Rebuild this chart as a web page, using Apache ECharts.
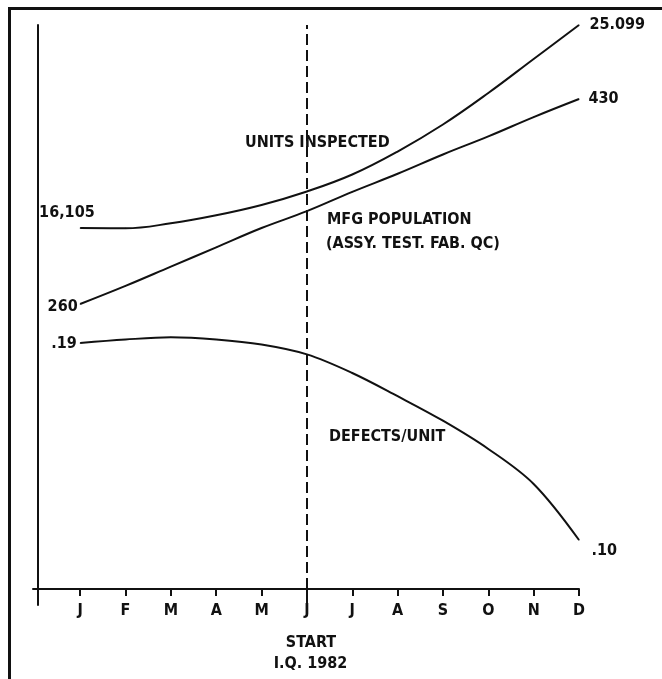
<!DOCTYPE html>
<html>
<head>
<meta charset="utf-8">
<script src="https://cdn.jsdelivr.net/npm/echarts@6/dist/echarts.min.js"></script>
<style>
html,body{margin:0;padding:0;background:#fff;}
#chart{width:662px;height:679px;}
</style>
</head>
<body>
<div id="chart"></div>
<script>
// ---- data ----
const months = ['J','F','M','A','M','J','J','A','S','O','N','D'];
const unitsInspected = [16105, 16092, 16313, 16668, 17124, 17722, 18475, 19494, 20691, 22086, 23593, 25099];
const mfgPopulation = [260, 275, 291, 307, 323, 337, 353, 368, 384, 399, 415, 430];
const defectsPerUnit = [0.19, 0.1916, 0.1926, 0.1916, 0.1893, 0.1848, 0.1763, 0.1657, 0.1545, 0.1416, 0.1256, 0.10];
const startLabels = ['16,105', '260', '.19'];
const endLabels = ['25.099', '430', '.10'];
const seriesNames = ['UNITS INSPECTED', 'MFG POPULATION', 'DEFECTS/UNIT'];
const startMonthIndex = 5;

// ---- styling ----
const FONT = "'Liberation Sans Narrow', 'DejaVu Sans Condensed', 'Arial Narrow', sans-serif";
const INK = '#111';
const textBase = {fontFamily: FONT, fontWeight: 'bold', fontSize: 16, color: INK};

function makeData(values, sIdx, startPos, endPos) {
  return values.map((v, i) => {
    const item = {value: [i, v]};
    if (i === 0) {
      item.label = Object.assign({show: true, formatter: startLabels[sIdx]}, textBase, startPos);
    } else if (i === values.length - 1) {
      item.label = Object.assign({show: true, formatter: endLabels[sIdx]}, textBase, endPos);
    }
    return item;
  });
}

const lineStyle = {color: INK, width: 2};
const common = {type: 'line', symbol: 'circle', symbolSize: 1, showSymbol: true, itemStyle: {color: INK},
  lineStyle: lineStyle, clip: false, emphasis: {disabled: true}};

const chart = echarts.init(document.getElementById('chart'), null, {renderer: 'canvas'});
chart.setOption({
  backgroundColor: '#fff',
  animation: false,
  grid: {left: 33, right: 83, top: 25, bottom: 74},
  xAxis: {
    type: 'value', min: -1.04, max: 11, offset: -16,
    axisLine: {show: true, onZero: false, lineStyle: {color: INK, width: 2}},
    axisTick: {show: true, inside: false, length: 7, customValues: months.map((m, i) => i), lineStyle: {color: INK, width: 2}},
    axisLabel: Object.assign({customValues: months.map((m, i) => i), margin: 14, formatter: v => months[Math.round(v)]}, textBase),
    splitLine: {show: false}
  },
  yAxis: [
    {type: 'value', min: 0, max: 1, position: 'left', offset: -5,
     axisLine: {show: true, onZero: false, lineStyle: {color: INK, width: 2}}, axisTick: {show: false}, axisLabel: {show: false}, splitLine: {show: false}},
    {type: 'value', min: -598, max: 25099, show: false, splitLine: {show: false}},
    {type: 'value', min: 10.39, max: 491.37, show: false, splitLine: {show: false}},
    {type: 'value', min: 0.07031, max: 0.33528, show: false, splitLine: {show: false}}
  ],
  series: [
    Object.assign({}, common, {
      name: seriesNames[0], yAxisIndex: 1, smooth: 0.4,
      data: makeData(unitsInspected, 0, {position: 'left', distance: 0, offset: [15, -15]}, {position: 'right', distance: 10}),
      markLine: {
        silent: true, symbol: 'none', label: {show: false},
        lineStyle: {color: INK, width: 2, type: [11, 5]},
        data: [{xAxis: startMonthIndex}]
      }
    }),
    Object.assign({}, common, {
      name: seriesNames[1], yAxisIndex: 2, smooth: 0.4,
      data: makeData(mfgPopulation, 1, {position: 'left', distance: 2, offset: [0, 3]}, {position: 'right', distance: 9})
    }),
    Object.assign({}, common, {
      name: seriesNames[2], yAxisIndex: 3, smooth: 0.35,
      data: makeData(defectsPerUnit, 2, {position: 'left', distance: 3, offset: [0, 1]}, {position: 'right', distance: 12, offset: [0, 11]})
    })
  ],
  graphic: [
    {type: 'rect', shape: {x: 9.5, y: 8.5, width: 700, height: 700}, style: {fill: 'none', stroke: INK, lineWidth: 3}, silent: true},
    {type: 'text', style: {text: seriesNames[0], x: 245, y: 143, font: "bold 16px " + FONT, fill: INK, verticalAlign: 'middle'}},
    {type: 'text', style: {text: seriesNames[1], x: 327, y: 220, font: "bold 16px " + FONT, fill: INK, verticalAlign: 'middle'}},
    {type: 'text', style: {text: '(ASSY. TEST. FAB. QC)', x: 326, y: 243.5, font: "bold 16px " + FONT, fill: INK, verticalAlign: 'middle'}},
    {type: 'text', style: {text: seriesNames[2], x: 329, y: 436.5, font: "bold 16px " + FONT, fill: INK, verticalAlign: 'middle'}},
    {type: 'text', style: {text: 'START', x: 311, y: 642.5, font: "bold 16px " + FONT, fill: INK, align: 'center', verticalAlign: 'middle'}},
    {type: 'text', style: {text: 'I.Q. 1982', x: 310.5, y: 663.5, font: "bold 16px " + FONT, fill: INK, align: 'center', verticalAlign: 'middle'}}
  ]
});
</script>
</body>
</html>
